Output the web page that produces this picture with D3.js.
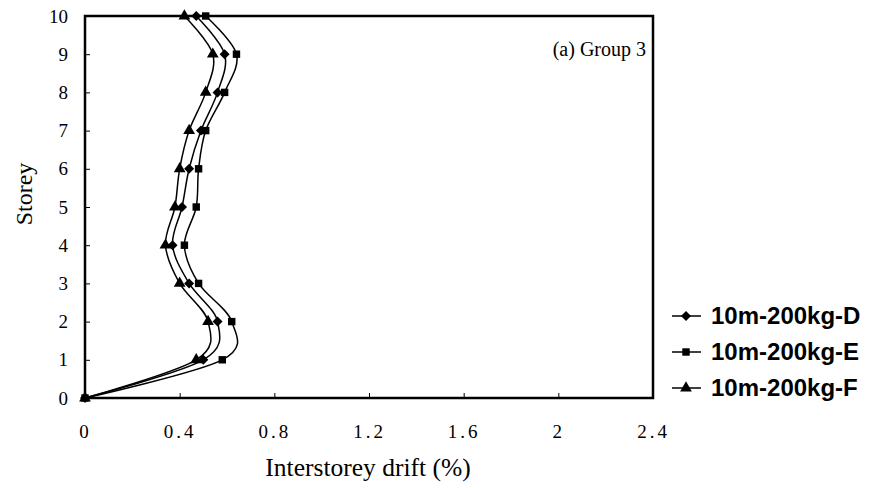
<!DOCTYPE html>
<html>
<head>
<meta charset="utf-8">
<script src="https://cdn.jsdelivr.net/npm/d3@7/dist/d3.min.js"></script>
<style>
  body { margin: 0; background: #fff; }
  svg { display: block; }
  .tick text { font-family: "Liberation Serif", "Times New Roman", serif; font-size: 19px; fill: #000; }
</style>
</head>
<body>
<div id="chart"></div>
<script>
// storeys on the vertical axis
var storeys = [0, 1, 2, 3, 4, 5, 6, 7, 8, 9, 10];
// interstorey drift (%) per storey
var driftD = [0, 0.50, 0.56, 0.44, 0.37, 0.41, 0.44, 0.49, 0.56, 0.59, 0.47];
var driftE = [0, 0.58, 0.62, 0.48, 0.42, 0.47, 0.48, 0.51, 0.59, 0.64, 0.51];
var driftF = [0, 0.47, 0.52, 0.40, 0.34, 0.38, 0.40, 0.44, 0.51, 0.54, 0.42];
var seriesNames = ["10m-200kg-D", "10m-200kg-E", "10m-200kg-F"];
var xTicks = [0, 0.4, 0.8, 1.2, 1.6, 2, 2.4];
var xTickLabels = ["0", "0.4", "0.8", "1.2", "1.6", "2", "2.4"];

var svgWidth = 869;
var svgHeight = 488;
var margin = { top: 16, right: 216, bottom: 90, left: 85 };
var width = svgWidth - margin.left - margin.right;
var height = svgHeight - margin.top - margin.bottom;

var svg = d3.select("#chart")
  .append("svg")
  .attr("width", svgWidth)
  .attr("height", svgHeight);

var chartGroup = svg.append("g")
  .attr("transform", `translate(${margin.left}, ${margin.top})`);

var xScale = d3.scaleLinear().domain([0, 2.4]).range([0, width]);
var yScale = d3.scaleLinear().domain([0, 10]).range([height, 0]);

// axes with inward ticks
var bottomAxis = d3.axisBottom(xScale)
  .tickValues(xTicks)
  .tickSize(-5)
  .tickPadding(27)
  .tickFormat((d, i) => xTickLabels[i]);
var leftAxis = d3.axisLeft(yScale)
  .tickValues(storeys)
  .tickSize(-5)
  .tickPadding(17);

var xAxis = chartGroup.append("g")
  .attr("transform", `translate(0, ${height})`)
  .call(bottomAxis);
xAxis.selectAll("text").attr("letter-spacing", "3px");
var yAxis = chartGroup.append("g").call(leftAxis);
[xAxis, yAxis].forEach(a => {
  a.select(".domain").remove();
  a.selectAll("line").attr("stroke", "#000").attr("stroke-width", 1);
});

// frame
chartGroup.append("rect")
  .attr("x", 0).attr("y", 0)
  .attr("width", width).attr("height", height)
  .attr("fill", "none")
  .attr("stroke", "#000")
  .attr("stroke-width", 2.5);

// smoothed line like the spreadsheet's
var line = d3.line()
  .x(d => xScale(d[1]))
  .y(d => yScale(d[0]))
  .curve(d3.curveCardinal.tension(0));

var symbols = [d3.symbolSquare, d3.symbolSquare, d3.symbolTriangle];
var symbolSizes = [50, 55, 60];
var allSeries = [driftD, driftE, driftF];

function drawSymbol(g, k, x, y) {
  return g.append("path")
    .attr("d", d3.symbol().type(symbols[k]).size(symbolSizes[k]))
    .attr("fill", "#000")
    .attr("transform", `translate(${x}, ${y})` + (k === 0 ? " rotate(45)" : ""));
}

// draw F, D, then E so the square sits on top at the origin
[2, 0, 1].forEach(function(k) {
  var pts = storeys.map((s, i) => [s, allSeries[k][i]]);
  chartGroup.append("path")
    .datum(pts)
    .attr("d", line)
    .attr("fill", "none")
    .attr("stroke", "#000")
    .attr("stroke-width", 1.5);
  pts.forEach(p => drawSymbol(chartGroup, k, xScale(p[1]), yScale(p[0])));
});

// panel label
chartGroup.append("text")
  .attr("x", width - 7)
  .attr("y", 40)
  .attr("text-anchor", "end")
  .style("font-family", "Liberation Serif, Times New Roman, serif")
  .style("font-size", "20px")
  .text("(a) Group 3");

// axis titles
svg.append("text")
  .attr("x", 368)
  .attr("y", 476)
  .attr("text-anchor", "middle")
  .style("font-family", "Liberation Serif, Times New Roman, serif")
  .style("font-size", "25.5px")
  .text("Interstorey drift (%)");

svg.append("text")
  .attr("transform", "rotate(-90)")
  .attr("x", -194)
  .attr("y", 32)
  .attr("text-anchor", "middle")
  .style("font-family", "Liberation Serif, Times New Roman, serif")
  .style("font-size", "24px")
  .text("Storey");

// legend
var legend = svg.append("g");
seriesNames.forEach(function(name, k) {
  var cy = 316 + k * 36;
  legend.append("line")
    .attr("x1", 672).attr("x2", 701)
    .attr("y1", cy).attr("y2", cy)
    .attr("stroke", "#000")
    .attr("stroke-width", 1.5);
  drawSymbol(legend, k, 686, cy);
  legend.append("text")
    .attr("x", 711)
    .attr("y", cy + 8)
    .style("font-family", "Liberation Sans, Arial, sans-serif")
    .style("font-weight", "bold")
    .style("font-size", "24px")
    .text(name);
});
</script>
</body>
</html>
